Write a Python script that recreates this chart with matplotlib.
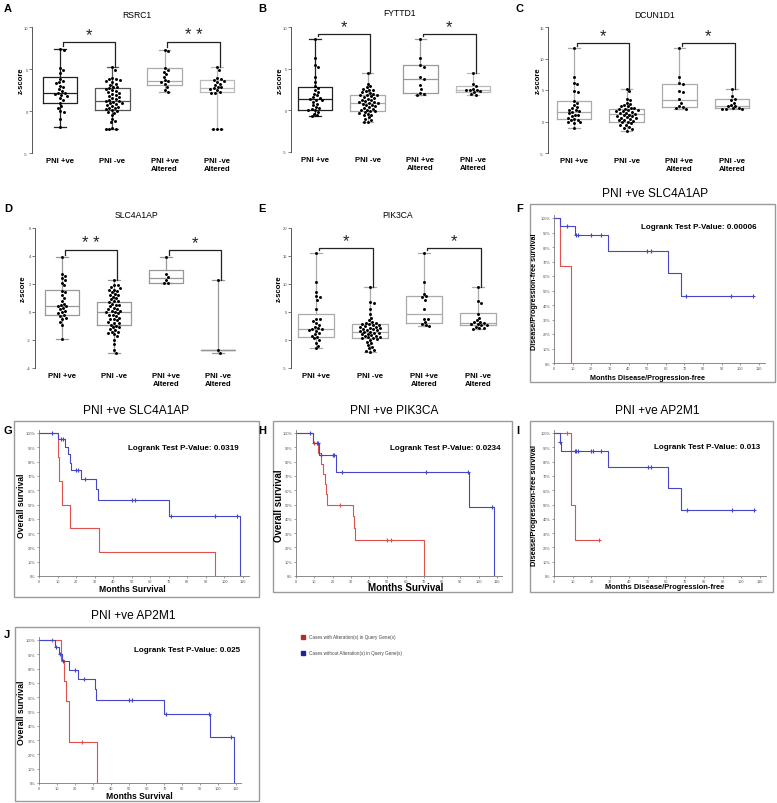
import matplotlib
matplotlib.use("Agg")
import matplotlib.pyplot as plt
from matplotlib.lines import Line2D
from matplotlib.patches import Rectangle
import numpy as np

plt.rcParams['font.family'] = ['Liberation Sans', 'DejaVu Sans']

W, H = 777, 804

groups = ["PNI +ve", "PNI -ve", "PNI +ve\nAltered", "PNI -ve\nAltered"]

# ---- z-score dot plots (A-E) ----
rsrc1_pos = [7.4, 7.3, 5.1, 4.9, 4.5, 3.8, 3.6, 3.4, 3.3, 3.0, 2.8, 2.6, 2.4, 2.2, 2.1,
             2.0, 1.9, 1.8, 1.5, 1.3, 1.0, 0.6, 0.4, 0.0, -0.1, -1.0, -1.9]
rsrc1_neg = [5.2, 4.9, 3.9, 3.8, 3.8, 3.7, 3.6, 3.4, 3.2, 3.1, 2.9, 2.8, 2.7, 2.6, 2.5,
             2.4, 2.3, 2.2, 2.0, 1.9, 1.8, 1.7, 1.5, 1.4, 1.3, 1.2, 1.2, 1.1, 1.0, 0.9,
             0.8, 0.7, 0.6, 0.5, 0.4, 0.3, 0.2, 0.1, 0.0, -0.1, -0.2, -0.5, -0.9, -1.2,
             -1.3, -2.0, -2.2, -2.2, -2.1]
rsrc1_pos_alt = [7.3, 7.2, 5.1, 4.9, 4.7, 4.4, 4.1, 3.7, 3.6, 3.5, 3.2, 2.9, 2.5, 2.3]
rsrc1_neg_alt = [5.2, 4.9, 3.9, 3.8, 3.7, 3.6, 3.4, 3.2, 3.1, 2.9, 2.8, 2.7, 2.6, 2.5,
                 2.3, 2.2, 2.1, -2.1, -2.2, -2.2]
rsrc1_box = [(0.95, 2.2, 4.0), (0.1, 1.2, 2.7), (3.1, 3.6, 5.1), (2.3, 2.7, 3.7)]

fyttd1_pos = [8.6, 6.3, 5.4, 5.2, 4.0, 3.4, 2.9, 2.7, 2.4, 2.2, 2.0, 1.8, 1.6, 1.5, 1.4,
              1.3, 1.2, 1.0, 0.8, 0.6, 0.4, 0.3, 0.2, 0.1, 0.0, -0.2, -0.4, -0.6, -0.7]
fyttd1_neg = [4.5, 3.2, 2.9, 2.8, 2.6, 2.5, 2.4, 2.3, 2.2, 2.1, 2.0, 1.9, 1.9, 1.8, 1.7,
              1.6, 1.5, 1.4, 1.3, 1.2, 1.1, 1.0, 1.0, 0.9, 0.9, 0.8, 0.7, 0.6, 0.5, 0.4,
              0.3, 0.2, 0.1, 0.0, -0.1, -0.1, -0.2, -0.3, -0.4, -0.5, -0.6, -0.8, -1.0,
              -1.1, -1.4, -1.4]
fyttd1_pos_alt = [8.6, 6.3, 5.4, 5.2, 4.0, 3.8, 3.0, 2.6, 2.1, 2.0, 1.9]
fyttd1_neg_alt = [4.5, 3.2, 2.9, 2.6, 2.5, 2.4, 2.4, 2.3, 2.2, 2.0, 1.9]
fyttd1_box = [(0.1, 1.4, 2.8), (-0.1, 0.9, 1.9), (2.1, 3.8, 5.5), (2.2, 2.5, 2.9)]

dcun1d1_pos = [11.6, 7.0, 6.1, 5.9, 4.8, 4.7, 3.3, 3.0, 2.6, 2.3, 2.1, 1.9, 1.8, 1.6, 1.5,
               1.3, 1.1, 1.0, 0.8, 0.6, 0.4, 0.3, 0.2, 0.0, -0.1, -0.2, -1.1]
dcun1d1_neg = [5.2, 4.8, 3.6, 3.4, 3.0, 2.8, 2.6, 2.5, 2.4, 2.2, 2.1, 2.0, 2.0, 1.9, 1.8,
               1.7, 1.6, 1.5, 1.4, 1.3, 1.2, 1.1, 1.0, 0.9, 0.8, 0.7, 0.6, 0.5, 0.4, 0.3,
               0.2, 0.1, 0.0, -0.1, -0.3, -0.5, -0.6, -0.8, -1.0, -1.2, -1.5]
dcun1d1_pos_alt = [11.6, 7.0, 6.1, 5.9, 4.8, 4.7, 3.5, 3.0, 2.4, 2.3, 2.1, 2.0]
dcun1d1_neg_alt = [5.2, 4.0, 3.6, 3.4, 3.0, 2.6, 2.5, 2.4, 2.2, 2.1, 2.0, 2.0, 2.0]
dcun1d1_box = [(0.4, 1.5, 3.3), (0.0, 1.2, 2.0), (2.3, 3.4, 6.0), (2.1, 2.5, 3.5)]

slc4a1ap_pos = [3.9, 2.7, 2.6, 2.4, 2.3, 2.1, 1.9, 1.5, 1.4, 1.2, 1.0, 0.8, 0.6, 0.5, 0.4,
                0.4, 0.3, 0.2, 0.1, 0.0, -0.1, -0.2, -0.3, -0.4, -0.5, -0.7, -0.9, -1.9]
slc4a1ap_neg = [2.3, 1.9, 1.9, 1.8, 1.7, 1.6, 1.6, 1.5, 1.4, 1.3, 1.2, 1.2, 1.1, 1.0, 0.9,
                0.8, 0.8, 0.7, 0.6, 0.5, 0.5, 0.4, 0.3, 0.2, 0.2, 0.1, 0.1, 0.0, 0.0, -0.1,
                -0.2, -0.2, -0.3, -0.4, -0.5, -0.5, -0.6, -0.7, -0.8, -0.8, -0.9, -1.0,
                -1.1, -1.1, -1.2, -1.3, -1.4, -1.4, -1.5, -1.6, -1.7, -2.0, -2.3, -2.7, -2.9]
slc4a1ap_pos_alt = [3.9, 2.7, 2.5, 2.3, 2.1, 2.1]
slc4a1ap_neg_alt = [2.3, -2.7, -2.9]
slc4a1ap_box = [(-0.2, 0.4, 1.6), (-0.9, 0.0, 0.7), (2.1, 2.4, 3.0), (-2.7, -2.7, -2.7)]

pik3ca_pos = [15.5, 10.3, 8.5, 7.8, 7.6, 7.2, 5.6, 3.8, 3.7, 3.4, 3.0, 2.7, 2.4, 2.1, 2.0,
              1.9, 1.8, 1.6, 1.3, 1.0, 0.8, 0.5, 0.3, 0.0, -0.5, -1.0, -1.5]
pik3ca_neg = [9.5, 6.8, 6.6, 5.5, 4.6, 4.0, 3.5, 3.2, 3.1, 3.0, 2.9, 2.8, 2.7, 2.6, 2.5,
              2.4, 2.3, 2.2, 2.1, 2.0, 1.9, 1.8, 1.7, 1.6, 1.5, 1.4, 1.3, 1.2, 1.1, 1.0,
              0.9, 0.8, 0.7, 0.6, 0.5, 0.4, 0.3, 0.2, 0.0, -0.3, -0.6, -0.9, -1.2, -1.5,
              -1.7, -1.9, -2.1]
pik3ca_pos_alt = [15.5, 10.3, 8.3, 7.8, 7.6, 7.2, 5.6, 3.8, 3.7, 3.2, 2.8, 2.6, 2.5]
pik3ca_neg_alt = [9.5, 6.9, 6.6, 4.6, 4.0, 3.5, 3.3, 3.2, 3.0, 2.9, 2.8, 2.7, 2.6, 2.4,
                  2.2, 2.1, 2.0]
pik3ca_box = [(0.5, 1.9, 4.7), (0.3, 1.5, 2.9), (3.0, 4.7, 7.9), (2.6, 3.0, 4.8)]

# ---- Kaplan-Meier curves (F-J): step times, survival after step, censor times ----
f_red_t = [0, 3, 9]
f_red_s = [1.0, 0.667, 0.0]
f_red_c = []
f_blue_t = [0, 3, 11, 29, 61, 68]
f_blue_s = [1.0, 0.944, 0.885, 0.775, 0.62, 0.465]
f_blue_c = [7, 12, 13, 20, 25, 50, 52, 71, 95, 107]

g_red_t = [0, 10, 11, 12.5, 16.5, 32.5, 95]
g_red_s = [1.0, 0.833, 0.667, 0.5, 0.333, 0.167, 0.0]
g_red_c = []
g_blue_t = [0, 10, 14, 15.5, 16.5, 17, 22.5, 31, 32, 70, 108.5]
g_blue_s = [1.0, 0.955, 0.90, 0.85, 0.79, 0.74, 0.68, 0.605, 0.53, 0.42, 0.0]
g_blue_c = [7, 12, 13, 20, 21, 25, 50, 52, 71, 95, 107]

h_red_t = [0, 9.5, 12, 13.5, 15, 16, 16.5, 17, 31, 32, 32.5, 70]
h_red_s = [1.0, 0.929, 0.857, 0.786, 0.714, 0.643, 0.571, 0.5, 0.417, 0.333, 0.25, 0.0]
h_red_c = [10, 24, 50, 52]
h_blue_t = [0, 9.5, 12.5, 22, 94.5, 108.5]
h_blue_s = [1.0, 0.93, 0.845, 0.724, 0.483, 0.0]
h_blue_c = [7.5, 11.5, 12, 13.5, 20, 21, 25, 71, 94, 107]

i_red_t = [0, 9, 11]
i_red_s = [1.0, 0.5, 0.25]
i_red_c = [7, 24]
i_blue_t = [0, 3, 3.5, 29, 61, 68]
i_blue_s = [1.0, 0.9375, 0.875, 0.765, 0.612, 0.46]
i_blue_c = [3.2, 11, 12, 13, 20, 21, 25, 50, 52, 71, 95, 107]

j_red_t = [0, 12.5, 14, 15, 16.5, 17, 32.5]
j_red_s = [1.0, 0.857, 0.714, 0.571, 0.429, 0.286, 0.0]
j_red_c = [7, 24]
j_blue_t = [0, 9, 11, 13, 17, 22, 31, 32, 70, 95.5, 109]
j_blue_s = [1.0, 0.95, 0.90, 0.85, 0.79, 0.725, 0.655, 0.58, 0.483, 0.32, 0.0]
j_blue_c = [9.5, 12, 13.5, 20, 25, 50, 52, 71, 95, 107]

RED = '#e0504c'
BLUE = '#4646c8'

fig = plt.figure(figsize=(W / 100, H / 100), dpi=100)


def px_rect(x0, y0, x1, y1):
    return [x0 / W, 1 - y1 / H, (x1 - x0) / W, (y1 - y0) / H]


def ftext(x, y, s, **kw):
    fig.text(x / W, 1 - y / H, s, **kw)


def swarm_offsets(vals, ypu, xpu, d=3.4):
    vals = np.asarray(vals, dtype=float)
    order = np.argsort(-vals, kind='stable')
    cand = [0.0] + [s * k * 0.4 for k in range(1, 80) for s in (1, -1)]
    placed = []
    offs = np.zeros(len(vals))
    for i in order:
        y = vals[i] * ypu
        for c in cand:
            if all((c - px) ** 2 + (y - py) ** 2 >= d * d for px, py in placed):
                break
        placed.append((c, y))
        offs[i] = c / xpu
    return offs


def dot_panel(spine_x, cat1_x, step, y_top, y_bot, ylim, yticks, data, boxes, colors,
              bracket, stars, title, title_xy, letter, letter_xy, zlab_x):
    xlo = 1 - (cat1_x - spine_x) / step
    xhi = 4.45
    right = spine_x + (xhi - xlo) * step
    ax = fig.add_axes(px_rect(spine_x, y_top, right, y_bot))
    ax.set_xlim(xlo, xhi)
    ax.set_ylim(*ylim)
    ypu = (y_bot - y_top) / (ylim[1] - ylim[0])
    for k, (vals, (q1, med, q3)) in enumerate(zip(data, boxes)):
        st = {'med': med, 'q1': q1, 'q3': q3, 'whislo': min(vals), 'whishi': max(vals)}
        c = colors[k]
        ax.bxp([st], positions=[k + 1], widths=0.66, showfliers=False,
               boxprops={'color': c, 'lw': 0.9},
               whiskerprops={'color': c, 'lw': 0.9},
               capprops={'color': c, 'lw': 0.9},
               medianprops={'color': c, 'lw': 0.9},
               capwidths=0.22)
    for k, vals in enumerate(data):
        offs = swarm_offsets(vals, ypu, step)
        ax.scatter(np.full(len(vals), k + 1.0) + offs, vals, s=4.6, color='black',
                   zorder=5, linewidths=0)
    # significance brackets
    for (a, b), star in zip([(0, 1), (2, 3)], stars):
        xa, xb = a + 1.05, b + 1.05
        ax.plot([xa, xa, xb, xb], [max(data[a]) + 0.02 * (ylim[1] - ylim[0]), bracket,
                                   bracket, max(data[b])],
                color='#222222', lw=0.9, zorder=6)
        ax.text((xa + xb) / 2, bracket, star, ha='center', va='bottom',
                fontsize=12, color='#222222')
    for side in ['top', 'right', 'bottom']:
        ax.spines[side].set_visible(False)
    ax.spines['left'].set_color('#555555')
    ax.spines['left'].set_linewidth(0.7)
    ax.set_yticks(yticks)
    ax.set_yticklabels([str(v) for v in yticks])
    ax.tick_params(axis='y', labelsize=3, length=2, width=0.5, pad=1, colors='#444444')
    ax.set_xticks([1, 2, 3, 4])
    ax.set_xticklabels(groups, fontsize=5.6, fontweight='bold', linespacing=1.1)
    ax.tick_params(axis='x', length=0, pad=3)
    ftext(title_xy[0], title_xy[1], title, ha='center', va='center', fontsize=6.2)
    ftext(letter_xy[0], letter_xy[1], letter, ha='left', va='center', fontsize=8,
          fontweight='bold')
    ftext(zlab_x, (y_top + y_bot) / 2 - 10, 'z-score', rotation=90, ha='center',
          va='center', fontsize=5.5, fontweight='bold')
    return ax


dot_panel(32, 60, 52.3, 28, 154, (-5, 10), [-5, 0, 5, 10],
          [rsrc1_pos, rsrc1_neg, rsrc1_pos_alt, rsrc1_neg_alt], rsrc1_box,
          ['#222222', '#555555', '#aaaaaa', '#bbbbbb'], 8.2, ['*', '* *'],
          'RSRC1', (137, 15), 'A', (4, 9), 21)
dot_panel(291, 315, 52.7, 28, 153, (-5, 10), [-5, 0, 5, 10],
          [fyttd1_pos, fyttd1_neg, fyttd1_pos_alt, fyttd1_neg_alt], fyttd1_box,
          ['#222222', '#aaaaaa', '#999999', '#bbbbbb'], 9.2, ['*', '*'],
          'FYTTD1', (400, 14), 'B', (258, 9), 280)
dot_panel(548, 574, 52.7, 28, 154, (-5, 15), [-5, 0, 5, 10, 15],
          [dcun1d1_pos, dcun1d1_neg, dcun1d1_pos_alt, dcun1d1_neg_alt], dcun1d1_box,
          ['#aaaaaa'] * 4, 12.4, ['*', '*'],
          'DCUN1D1', (655, 15), 'C', (516, 9), 538)
dot_panel(35, 62, 52, 229, 369, (-4, 6), [-4, -2, 0, 2, 4, 6],
          [slc4a1ap_pos, slc4a1ap_neg, slc4a1ap_pos_alt, slc4a1ap_neg_alt], slc4a1ap_box,
          ['#999999'] * 4, 4.4, ['* *', '*'],
          'SLC4A1AP', (137, 215), 'D', (4, 209), 23)
dot_panel(291, 316, 54, 229, 369, (-5, 20), [-5, 0, 5, 10, 15, 20],
          [pik3ca_pos, pik3ca_neg, pik3ca_pos_alt, pik3ca_neg_alt], pik3ca_box,
          ['#aaaaaa'] * 4, 16.4, ['*', '*'],
          'PIK3CA', (398, 215), 'E', (258, 209), 279)


def step_xy(t, s, c):
    xs = list(t)
    ys = list(s)
    end = max(list(t) + list(c))
    if end > xs[-1]:
        xs.append(end)
        ys.append(ys[-1])
    return xs, ys


def censor_y(t, s, c):
    idx = np.searchsorted(np.asarray(t, dtype=float), np.asarray(c, dtype=float),
                          side='right') - 1
    return np.asarray(s)[idx]


def km_panel(box, x0, x110, y100, y0, curves, title, title_xy, letter, letter_xy,
             pval, pval_xy, xlabel, xlabel_xy, ylabel, ylabel_x, lab_size):
    fig.patches.append(Rectangle((box[0] / W, 1 - box[3] / H),
                                 (box[2] - box[0]) / W, (box[3] - box[1]) / H,
                                 transform=fig.transFigure, fill=False,
                                 edgecolor='#9a9a9a', lw=1.0))
    xpu = (x110 - x0) / 110
    ypu = (y0 - y100) / 1.0
    ax = fig.add_axes(px_rect(x0, y0 - 1.02 * ypu, x0 + 113 * xpu, y0))
    ax.set_xlim(0, 113)
    ax.set_ylim(0, 1.02)
    for t, s, c, col in curves:
        xs, ys = step_xy(t, s, c)
        ax.step(xs, ys, where='post', color=col, lw=0.8)
        if len(c):
            ax.plot(c, censor_y(t, s, c), ls='none', marker='+', ms=2.6, mew=0.8,
                    color=col)
    for side in ['top', 'right']:
        ax.spines[side].set_visible(False)
    for side in ['left', 'bottom']:
        ax.spines[side].set_color('#777777')
        ax.spines[side].set_linewidth(0.6)
    yt = np.arange(0, 1.01, 0.1)
    ax.set_yticks(yt)
    ax.set_yticklabels([f"{int(round(v * 100))}%" for v in yt])
    ax.set_xticks(np.arange(0, 111, 10))
    ax.tick_params(labelsize=2.8, length=1.5, width=0.4, pad=1, colors='#555555')
    ftext(pval_xy[0], pval_xy[1], pval, ha='center', va='center', fontsize=5.8,
          fontweight='bold')
    ftext(title_xy[0], title_xy[1], title, ha='center', va='center', fontsize=8.6)
    ftext(letter_xy[0], letter_xy[1], letter, ha='left', va='center', fontsize=8,
          fontweight='bold')
    ftext(xlabel_xy[0], xlabel_xy[1], xlabel, ha='center', va='center',
          fontsize=lab_size, fontweight='bold')
    ftext(ylabel_x, (y100 + y0) / 2, ylabel, ha='center', va='center', rotation=90,
          fontsize=lab_size, fontweight='bold')


dfs_x = 'Months Disease/Progression-free'
dfs_y = 'Disease/Progression-free survival'

km_panel((530, 205, 775, 383), 554, 759, 219, 364,
         [(f_red_t, f_red_s, f_red_c, RED), (f_blue_t, f_blue_s, f_blue_c, BLUE)],
         'PNI +ve SLC4A1AP', (655, 194), 'F', (516, 209),
         'Logrank Test P-Value: 0.00006', (699, 228), dfs_x, (647, 379), dfs_y, 535, 5.2)
km_panel((14, 422, 259, 598), 39, 243, 434, 577,
         [(g_red_t, g_red_s, g_red_c, RED), (g_blue_t, g_blue_s, g_blue_c, BLUE)],
         'PNI +ve SLC4A1AP', (136, 411), 'G', (4, 431),
         'Logrank Test P-Value: 0.0319', (183, 449), 'Months Survival', (132, 589),
         'Overall survival', 21, 6.2)
km_panel((273, 422, 512, 593), 296, 497, 434, 577,
         [(h_red_t, h_red_s, h_red_c, RED), (h_blue_t, h_blue_s, h_blue_c, BLUE)],
         'PNI +ve PIK3CA', (394, 411), 'H', (258, 431),
         'Logrank Test P-Value: 0.0234', (445, 449), 'Months Survival', (406, 588),
         'Overall survival', 279, 7.0)
km_panel((530, 422, 773, 593), 554, 760, 434, 577,
         [(i_red_t, i_red_s, i_red_c, RED), (i_blue_t, i_blue_s, i_blue_c, BLUE)],
         'PNI +ve AP2M1', (657, 411), 'I', (516, 431),
         'Logrank Test P-Value: 0.013', (707, 448), dfs_x, (665, 588), dfs_y, 535, 5.4)
km_panel((15, 628, 259, 802), 39, 236, 641, 784,
         [(j_red_t, j_red_s, j_red_c, RED), (j_blue_t, j_blue_s, j_blue_c, BLUE)],
         'PNI +ve AP2M1', (133, 616), 'J', (4, 635),
         'Logrank Test P-Value: 0.025', (187, 651), 'Months Survival', (139, 797),
         'Overall survival', 21, 6.2)

# legend
for yy, col, lab in [(638, '#a83232', 'Cases with Alteration(s) in Query Gene(s)'),
                     (654, '#23238f', 'Cases without Alteration(s) in Query Gene(s)')]:
    fig.add_artist(Line2D([303 / W], [1 - yy / H], marker='s', ms=2.2, color=col,
                          ls='none', transform=fig.transFigure))
    ftext(309, yy, lab, ha='left', va='center', fontsize=3.3, color='#444444')

fig.savefig('out.png', dpi=100)
